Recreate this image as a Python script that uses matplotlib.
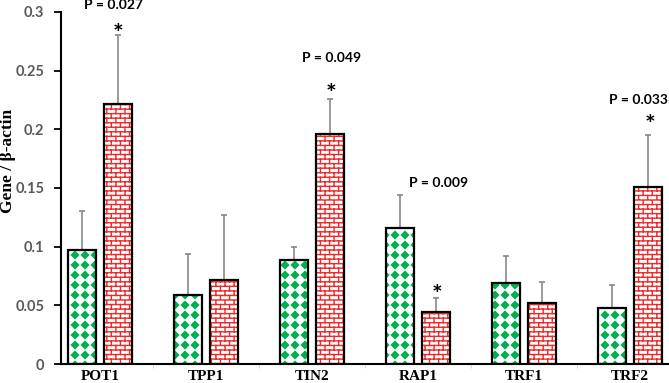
import warnings
warnings.filterwarnings('ignore')
import numpy as np
import matplotlib
matplotlib.use('Agg')
import matplotlib.pyplot as plt
import matplotlib.hatch as mhatch
from matplotlib.path import Path

# ---------------- data ----------------
genes = ['POT1', 'TPP1', 'TIN2', 'RAP1', 'TRF1', 'TRF2']
green_vals = [0.097, 0.059, 0.089, 0.116, 0.069, 0.048]
green_err = [0.033, 0.035, 0.011, 0.028, 0.023, 0.019]
red_vals = [0.222, 0.072, 0.196, 0.044, 0.052, 0.151]
red_err = [0.058, 0.055, 0.030, 0.012, 0.018, 0.044]
ytick_vals = [0, 0.05, 0.1, 0.15, 0.2, 0.25, 0.3]
ytick_labels = ['0', '0.05', '0.1', '0.15', '0.2', '0.25', '0.3']
p_labels = ['P = 0.027', 'P = 0.049', 'P = 0.009', 'P = 0.033']
p_genes = [0, 2, 3, 5]

# annotation placement
p_x_off = [0.13, 0.18, 0.19, 0.08]
p_y = [0.306, 0.261, 0.154, 0.225]
star_x_off = [0.17, 0.18, 0.18, 0.19]
star_y = [0.281, 0.230, 0.058, 0.203]


# ---------------- custom hatches ----------------
class DiamondGrid(mhatch.HatchPatternBase):
    N = 10

    def __init__(self, hatch, density):
        self.n = self.N if 'd' in hatch else 0
        self.num_vertices = self.n * self.n * 5

    def set_vertices_and_codes(self, vertices, codes):
        n = self.n
        h = 0.40 / n
        verts, cds = [], []
        for i in range(n):
            for j in range(n):
                cx = (i + 0.5) / n
                cy = (j + 0.5) / n
                verts += [(cx, cy - h), (cx + h, cy), (cx, cy + h),
                          (cx - h, cy), (cx, cy - h)]
                cds += [Path.MOVETO, Path.LINETO, Path.LINETO,
                        Path.LINETO, Path.CLOSEPOLY]
        vertices[:] = np.array(verts)
        codes[:] = np.array(cds)


class Brick(mhatch.HatchPatternBase):
    R = 22
    C = 11

    def __init__(self, hatch, density):
        on = 'b' in hatch
        self.num_vertices = ((self.R + 1) * 2 + self.R * self.C * 2) if on else 0

    def set_vertices_and_codes(self, vertices, codes):
        R, C = self.R, self.C
        verts, cds = [], []
        for k in range(R + 1):
            y = k / R
            verts += [(0, y), (1, y)]
            cds += [Path.MOVETO, Path.LINETO]
        for k in range(R):
            y0, y1 = k / R, (k + 1) / R
            shift = 0.25 if k % 2 == 0 else 0.75
            for j in range(C):
                xx = (j + shift) / C
                verts += [(xx, y0), (xx, y1)]
                cds += [Path.MOVETO, Path.LINETO]
        vertices[:] = np.array(verts)
        codes[:] = np.array(cds)


mhatch._hatch_types.extend([DiamondGrid, Brick])

# ---------------- figure ----------------
GREEN = '#00b050'
RED = '#ee2a2a'
sans = ['Lato', 'DejaVu Sans']
serif = ['Liberation Serif', 'DejaVu Serif']

fig = plt.figure(figsize=(6.69, 3.83), dpi=100)
ax = fig.add_axes([61 / 669, 19 / 383, 608 / 669, 352 / 383])

x = np.arange(len(genes))
w = 0.26
off = 0.17

ax.errorbar(x - off, green_vals, yerr=[np.zeros(len(genes)), green_err], fmt='none',
            ecolor='#7f7f7f', elinewidth=1.1, capsize=2.5, capthick=1.1, zorder=1)
ax.errorbar(x + off, red_vals, yerr=[np.zeros(len(genes)), red_err], fmt='none',
            ecolor='#7f7f7f', elinewidth=1.1, capsize=2.5, capthick=1.1, zorder=1)

plt.rcParams['hatch.linewidth'] = 0.6
ax.bar(x - off, green_vals, w, color='white', edgecolor=GREEN, linewidth=0,
       hatch='d', zorder=2)
plt.rcParams['hatch.linewidth'] = 1.0
ax.bar(x + off, red_vals, w, color='white', edgecolor=RED, linewidth=0,
       hatch='b', zorder=2)
ax.bar(x - off, green_vals, w, fill=False, edgecolor='black', linewidth=1.6, zorder=3)
ax.bar(x + off, red_vals, w, fill=False, edgecolor='black', linewidth=1.6, zorder=3)

ax.set_xlim(-0.37, len(genes) - 0.63)
ax.set_ylim(0, 0.3)

for s in ['top', 'right']:
    ax.spines[s].set_visible(False)
for s in ['left', 'bottom']:
    ax.spines[s].set_color('black')
    ax.spines[s].set_linewidth(1.5)

ax.set_yticks(ytick_vals)
ax.set_yticklabels(ytick_labels, fontfamily=sans, fontweight='bold', fontsize=10.5,
                   color='#595959')
ax.tick_params(axis='y', direction='out', length=5, width=1.3, color='black', pad=7)

ax.set_xticks(x)
ax.set_xticklabels(genes, fontfamily=serif, fontweight='bold', fontsize=11,
                   color='black')
ax.tick_params(axis='x', length=0, pad=4)
ax.set_xticks(x[:-1] + 0.5, minor=True)
ax.tick_params(axis='x', which='minor', length=3, width=0.8, color='#d9d9d9')

fig.text(8 / 669, 1 - 161 / 383, 'Gene / β-actin', rotation=90, ha='center',
         va='center', fontfamily=serif, fontweight='bold', fontsize=12.5)

for g, lab, dx, yy in zip(p_genes, p_labels, p_x_off, p_y):
    ax.text(x[g] + dx, yy, lab, ha='center', va='center', fontfamily=sans,
            fontweight='bold', fontsize=10, color='black', clip_on=False)
for g, dx, yy in zip(p_genes, star_x_off, star_y):
    ax.text(x[g] + dx, yy, '*', ha='center', va='center', fontfamily=sans,
            fontweight='bold', fontsize=18, color='black', clip_on=False)

fig.savefig('out.png', dpi=100)
